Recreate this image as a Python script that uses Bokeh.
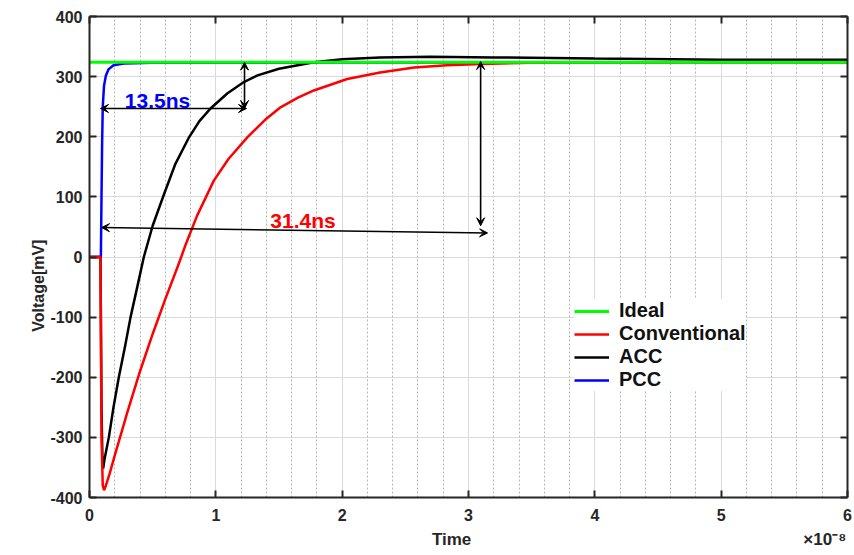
import math
from bokeh.plotting import figure
from bokeh.models import (Range1d, FixedTicker, LinearAxis, Legend, LegendItem,
                          Label, Arrow, VeeHead, CustomLabelingPolicy)
from bokeh.embed import file_html
from bokeh.resources import INLINE

FONT = "Liberation Sans"
AXC = "#262626"

# ---------------- data (time in units of 1e-8 s, voltage in mV) ----------------
x_ticks = [0, 1, 2, 3, 4, 5, 6]
x_minor = [0.2, 0.4, 0.6, 0.8, 1.2, 1.4, 1.6, 1.8, 2.2, 2.4, 2.6, 2.8,
           3.2, 3.4, 3.6, 3.8, 4.2, 4.4, 4.6, 4.8, 5.2, 5.4, 5.6, 5.8]
y_ticks = [-400, -300, -200, -100, 0, 100, 200, 300, 400]
y_tick_labels = ["-400", "-300", "-200", "-100", "0", "100", "200", "300", "400"]

time_ideal = [0, 6]
volt_ideal = [324, 324]

time_conv = [0, 0.087, 0.095, 0.105, 0.115, 0.13, 0.16, 0.2, 0.3, 0.4, 0.5, 0.6,
             0.7, 0.76, 0.85, 0.984, 1.1, 1.249, 1.4, 1.512, 1.65, 1.776, 2.04,
             2.3, 2.57, 2.83, 3.1, 3.5, 4.0, 5.0, 6.0]
volt_conv = [0, 0, -300, -380, -388, -380, -360, -330, -258, -190, -128, -70,
             -15, 20, 68, 127, 163, 199, 230, 249, 265, 277, 296,
             307, 315, 319, 321, 323, 324, 324, 324]

time_acc = [0, 0.087, 0.095, 0.103, 0.108, 0.12, 0.153, 0.19, 0.232, 0.28, 0.325,
            0.38, 0.43, 0.5, 0.589, 0.68, 0.785, 0.87, 0.958, 1.09, 1.222, 1.33,
            1.5, 1.776, 2.0, 2.3, 2.7, 3.2, 4.0, 5.0, 6.0]
volt_acc = [0, 0, -250, -345, -352, -335, -300, -250, -200, -150, -100,
            -48, 0, 52, 104, 155, 198, 226, 247, 272, 291, 302,
            313, 324, 329, 332, 333, 332, 330, 328, 328]

time_pcc = [0, 0.088, 0.09, 0.095, 0.1, 0.105, 0.115, 0.13, 0.15, 0.19, 0.27,
            0.5, 2.0, 6.0]
volt_pcc = [0, 0, 0, 100, 190, 250, 285, 302, 312, 319, 322,
            323, 323.5, 324]

series_names = ["Ideal", "Conventional", "ACC", "PCC"]

# axis titles and where they sit along their axes (data units)
y_title = "Voltage[mV]"
y_title_at = 29
x_title = "Time"
x_title_at = 2.866
x_exponent = "\u00d710\u207b\u2078"
x_exponent_at = 5.82

# annotation specs: (x_start, y_start, x_end, y_end)
arrow_pcc_h = (0.087, 247, 1.243, 247)
arrow_pcc_v = (1.227, 324, 1.227, 247)
arrow_conv_h = (0.095, 49, 3.151, 40)
arrow_conv_v = (3.096, 325, 3.096, 52)

# ---------------- figure ----------------
p = figure(width=854, height=555, output_backend="svg", toolbar_location=None,
           x_range=Range1d(0, 6), y_range=Range1d(-400, 400),
           min_border_left=89, min_border_right=7, min_border_top=16,
           min_border_bottom=58, background_fill_color="white",
           border_fill_color="white", outline_line_color=None)

xt = FixedTicker(ticks=x_ticks, minor_ticks=x_minor)
yt = FixedTicker(ticks=y_ticks)


def style_axis(ax, standoff=8):
    ax.axis_line_color = AXC
    ax.axis_line_width = 2
    ax.major_tick_in = 7
    ax.major_tick_out = 0
    ax.major_tick_line_color = AXC
    ax.major_tick_line_width = 2
    ax.minor_tick_line_color = None
    ax.major_label_text_font = FONT
    ax.major_label_text_font_style = "bold"
    ax.major_label_text_color = AXC
    ax.major_label_text_font_size = "16px"
    ax.major_label_standoff = standoff


def title_axis(ax, size, standoff):
    ax.axis_line_color = None
    ax.major_tick_line_color = None
    ax.minor_tick_line_color = None
    ax.major_tick_in = 0
    ax.major_tick_out = 0
    ax.major_label_text_font = FONT
    ax.major_label_text_font_style = "bold"
    ax.major_label_text_color = AXC
    ax.major_label_text_font_size = size
    ax.major_label_standoff = standoff


p.xaxis.ticker = xt
p.yaxis.ticker = yt
style_axis(p.xaxis[0], 7)
style_axis(p.yaxis[0], 7)
p.yaxis[0].major_label_overrides = dict(zip(y_ticks, y_tick_labels))

# box ticks on top and right (no labels)
no_labels = CustomLabelingPolicy(code="return []")
top_ax = LinearAxis(ticker=FixedTicker(ticks=x_ticks))
right_ax = LinearAxis(ticker=FixedTicker(ticks=y_ticks))
for ax in (top_ax, right_ax):
    style_axis(ax, 0)
    ax.major_label_text_font_size = "1px"
    ax.major_label_policy = no_labels
p.add_layout(top_ax, "above")
p.add_layout(right_ax, "right")

# axis titles as single-label axes, so they sit where the reference has them
ytitle_ax = LinearAxis(ticker=FixedTicker(ticks=[y_title_at]))
title_axis(ytitle_ax, "16px", 9)
ytitle_ax.major_label_overrides = {y_title_at: y_title}
ytitle_ax.major_label_orientation = math.pi / 2
p.add_layout(ytitle_ax, "left")

xtitle_ax = LinearAxis(ticker=FixedTicker(ticks=[x_title_at, x_exponent_at]))
title_axis(xtitle_ax, "17px", 6)
xtitle_ax.major_label_overrides = {x_title_at: x_title, x_exponent_at: x_exponent}
p.add_layout(xtitle_ax, "below")

p.xgrid.ticker = xt
p.ygrid.ticker = yt
p.xgrid.grid_line_color = "#dadada"
p.ygrid.grid_line_color = "#dadada"
p.xgrid.grid_line_width = 1
p.ygrid.grid_line_width = 1
p.xgrid.minor_grid_line_color = "#b4b4b4"
p.xgrid.minor_grid_line_dash = "2 2"
p.xgrid.minor_grid_line_width = 1

# ---------------- curves ----------------
r_pcc = p.line(time_pcc, volt_pcc, line_color="#0000ff", line_width=2.5)
r_acc = p.line(time_acc, volt_acc, line_color="#000000", line_width=2.5)
r_conv = p.line(time_conv, volt_conv, line_color="#ff0000", line_width=2.5)
r_ideal = p.line(time_ideal, volt_ideal, line_color="#00ff00", line_width=3)

# ---------------- arrows ----------------
for (xs, ys, xe, ye) in [arrow_pcc_h, arrow_pcc_v, arrow_conv_h, arrow_conv_v]:
    p.add_layout(Arrow(start=VeeHead(size=8, fill_color="black", line_color="black", line_width=1),
                       end=VeeHead(size=8, fill_color="black", line_color="black", line_width=1),
                       x_start=xs, y_start=ys, x_end=xe, y_end=ye,
                       line_color="black", line_width=1.6))

p.add_layout(Label(x=0.538, y=261, text="13.5ns", text_font=FONT,
                   text_font_style="bold", text_font_size="21px",
                   text_color="#0000ff", text_align="center", text_baseline="middle"))
p.add_layout(Label(x=1.69, y=61, text="31.4ns", text_font=FONT,
                   text_font_style="bold", text_font_size="21px",
                   text_color="#ff0000", text_align="center", text_baseline="middle"))

# ---------------- legend ----------------
legend = Legend(items=[LegendItem(label=series_names[0], renderers=[r_ideal]),
                       LegendItem(label=series_names[1], renderers=[r_conv]),
                       LegendItem(label=series_names[2], renderers=[r_acc]),
                       LegendItem(label=series_names[3], renderers=[r_pcc])],
                location=(485, 106), margin=0, padding=4, spacing=0,
                glyph_width=35, glyph_height=22, label_height=22,
                label_standoff=10, label_text_font=FONT,
                label_text_font_style="bold", label_text_font_size="20px",
                label_text_color="#111111", border_line_color=None,
                background_fill_color="white", background_fill_alpha=1.0)
p.add_layout(legend)

open("out.html", "w").write(file_html(p, INLINE))
